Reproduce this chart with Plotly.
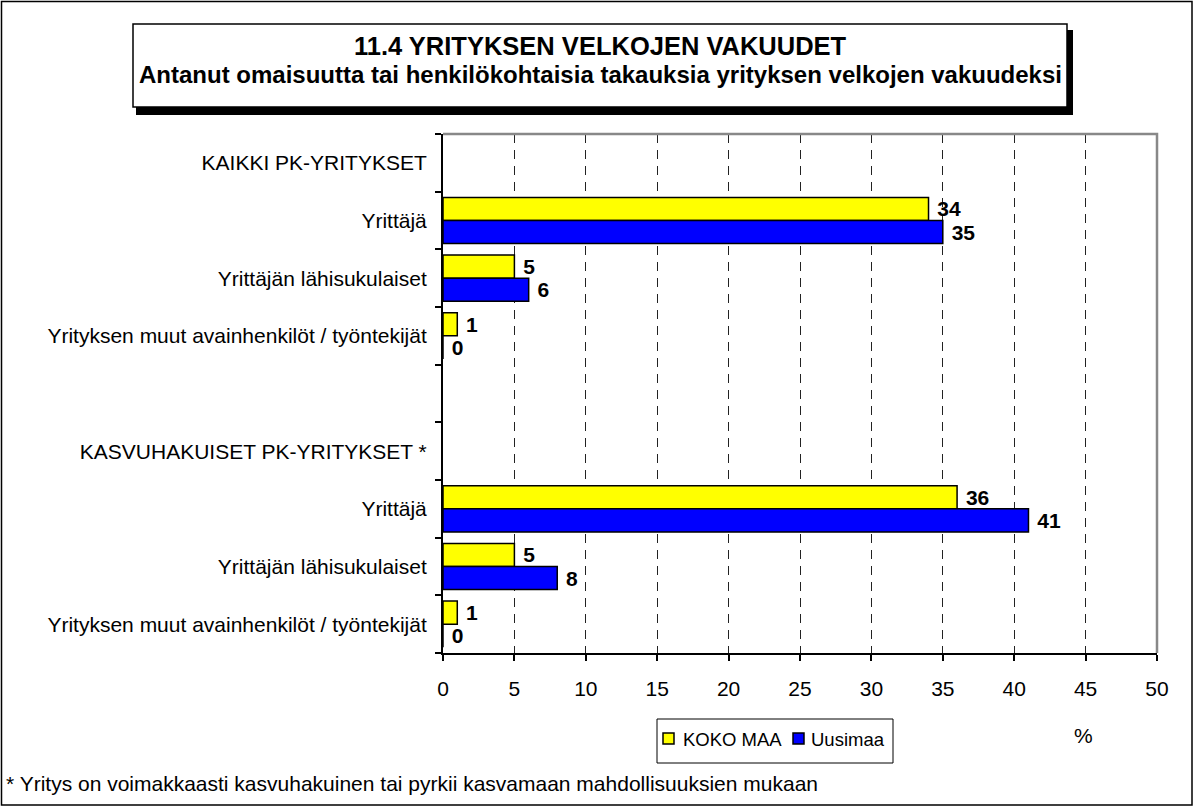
import plotly.graph_objects as go

categories = [
    "KAIKKI PK-YRITYKSET",
    "Yrittäjä",
    "Yrittäjän lähisukulaiset",
    "Yrityksen muut avainhenkilöt / työntekijät",
    "",
    "KASVUHAKUISET PK-YRITYKSET *",
    "Yrittäjä",
    "Yrittäjän lähisukulaiset",
    "Yrityksen muut avainhenkilöt / työntekijät",
]
koko_maa = [None, 34, 5, 1, None, None, 36, 5, 1]
uusimaa = [None, 35, 6, 0, None, None, 41, 8, 0]
series_names = ["KOKO MAA", "Uusimaa"]
series_colors = ["#FFFF00", "#0000FF"]
x_ticks = [0, 5, 10, 15, 20, 25, 30, 35, 40, 45, 50]

title_line1 = "11.4 YRITYKSEN VELKOJEN VAKUUDET"
title_line2 = "Antanut omaisuutta tai henkilökohtaisia takauksia yrityksen velkojen vakuudeksi"
footnote = "* Yritys on voimakkaasti kasvuhakuinen tai pyrkii kasvamaan mahdollisuuksien mukaan"

W, H = 1196, 808
L, R, T, B = 443, 1157, 134, 653
FONT = "Arial, Liberation Sans, sans-serif"


def px(x):
    return (x - L) / (R - L)


def py(y):
    return (B - y) / (B - T)


ypos = list(range(len(categories)))


def labels(vals):
    return ["" if v is None else str(v) for v in vals]


fig = go.Figure()
for name, vals, col in zip(series_names, [koko_maa, uusimaa], series_colors):
    fig.add_trace(go.Bar(
        y=ypos, x=vals, orientation="h", name=name, showlegend=False,
        marker=dict(color=col, line=dict(color="black", width=1.5)),
        text=labels(vals), texttemplate="\u00a0%{text}",
        textposition="outside", constraintext="none",
        textfont=dict(family=FONT, size=21, color="black", weight="bold"),
        cliponaxis=False,
    ))

shapes = [
    # outer chart border
    dict(type="rect", xref="paper", yref="paper", x0=px(1.5), x1=px(1192), y0=py(1.5), y1=py(805),
         line=dict(color="black", width=1.5), fillcolor="rgba(0,0,0,0)", layer="below"),
    # title shadow
    dict(type="rect", xref="paper", yref="paper", x0=px(136), x1=px(1073), y0=py(30), y1=py(115),
         line=dict(width=0), fillcolor="black", layer="above"),
    # title box
    dict(type="rect", xref="paper", yref="paper", x0=px(133), x1=px(1067), y0=py(24), y1=py(107),
         line=dict(color="black", width=1.5), fillcolor="white", layer="above"),
    # top/right gray plot border
    dict(type="path", xref="paper", yref="paper",
         path="M 0,1 L 1,1 L 1,0", line=dict(color="#888888", width=2.5), layer="above"),
    # legend box
    dict(type="rect", xref="paper", yref="paper", x0=px(657), x1=px(893), y0=py(719), y1=py(763),
         line=dict(color="black", width=1), fillcolor="white", layer="above"),
]

annotations = [
    dict(text="<b>" + title_line1 + "</b>", xref="paper", yref="paper", x=px(600), y=py(46),
         xanchor="center", yanchor="middle", showarrow=False,
         font=dict(family=FONT, size=25.5, color="black")),
    dict(text="<b>" + title_line2 + "</b>", xref="paper", yref="paper", x=px(600), y=py(74),
         xanchor="center", yanchor="middle", showarrow=False,
         font=dict(family=FONT, size=24, color="black")),
    dict(text="%", xref="paper", yref="paper", x=px(1083), y=py(735),
         xanchor="center", yanchor="middle", showarrow=False,
         font=dict(family=FONT, size=21, color="black")),
    dict(text=footnote, xref="paper", yref="paper", x=px(4), y=py(783),
         xanchor="left", yanchor="middle", showarrow=False,
         font=dict(family=FONT, size=21, color="black")),
]

# legend entries (square + label) inside the legend box
legend_sq_x = [663, 793]
legend_txt_x = [681, 809]
for name, col, sx, tx in zip(series_names, series_colors, legend_sq_x, legend_txt_x):
    shapes.append(dict(type="rect", xref="paper", yref="paper",
                       x0=px(sx), x1=px(sx + 11), y0=py(733), y1=py(744),
                       line=dict(color="black", width=1.5), fillcolor=col, layer="above"))
    annotations.append(dict(text=name, xref="paper", yref="paper", x=px(tx), y=py(739),
                            xanchor="left", yanchor="middle", showarrow=False,
                            font=dict(family=FONT, size=18.5, color="black")))

fig.update_layout(
    width=W, height=H, autosize=False,
    margin=dict(l=L, r=W - R, t=T, b=H - B, pad=0),
    paper_bgcolor="white", plot_bgcolor="white",
    barmode="group", bargap=0.2, bargroupgap=0,
    font=dict(family=FONT, size=21, color="black"),
    showlegend=False,
    shapes=shapes, annotations=annotations,
    xaxis=dict(range=[0, 50], tickvals=x_ticks, ticktext=[str(v) for v in x_ticks],
               showgrid=True, gridcolor="#222222", griddash="9px,7px", gridwidth=1,
               showline=True, linecolor="black", linewidth=2,
               ticks="outside", ticklen=6, tickcolor="black", tickwidth=1.5,
               ticklabelstandoff=10, zeroline=False,
               tickfont=dict(family=FONT, size=21, color="black"), fixedrange=True),
    yaxis=dict(range=[len(categories) - 0.5, -0.5], tickvals=ypos, ticktext=categories,
               showgrid=False, zeroline=False, showline=True, linecolor="black", linewidth=2,
               ticks="", ticklabelstandoff=10,
               minor=dict(tickvals=[i + 0.5 for i in range(-1, len(categories))],
                          ticks="outside", ticklen=6, tickcolor="black", tickwidth=1.5,
                          showgrid=False),
               tickfont=dict(family=FONT, size=21, color="black"), fixedrange=True),
)

fig.write_html(
    "out.html",
    config={"displayModeBar": False},
    post_script="document.body.style.margin='0';document.body.style.overflow='hidden';",
)
